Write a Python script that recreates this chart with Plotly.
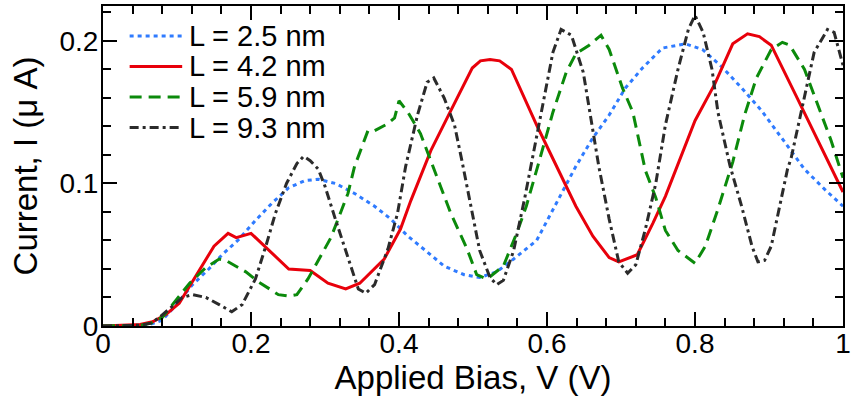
import plotly.graph_objects as go

# Current-voltage curves for four lengths L
labels = ["L = 2.5 nm", "L = 4.2 nm", "L = 5.9 nm", "L = 9.3 nm"]
colors = ["#2f7bff", "#e8000b", "#0b8a0b", "#2b2b2b"]
dashes = ["4px,4px", "solid", "12px,7px", "9px,4px,3px,4px"]

v_25 = [0, 0.06, 0.08, 0.099, 0.121, 0.143, 0.161, 0.184, 0.206, 0.228, 0.251, 0.273,
        0.291, 0.314, 0.34, 0.367, 0.389, 0.412, 0.438, 0.461, 0.488, 0.509, 0.532,
        0.555, 0.586, 0.613, 0.639, 0.662, 0.684, 0.706, 0.729, 0.756, 0.787, 0.810,
        0.836, 0.863, 0.89, 0.917, 0.948, 0.975, 1.0]
i_25 = [0, 0.0005, 0.004, 0.015, 0.029, 0.040, 0.050, 0.061, 0.074, 0.086, 0.097, 0.102,
        0.103, 0.100, 0.093, 0.084, 0.075, 0.063, 0.052, 0.042, 0.036, 0.034, 0.038,
        0.047, 0.060, 0.087, 0.112, 0.132, 0.148, 0.167, 0.181, 0.195, 0.198, 0.194,
        0.182, 0.167, 0.151, 0.132, 0.110, 0.096, 0.084]

v_42 = [0, 0.03, 0.05, 0.067, 0.085, 0.103, 0.126, 0.150, 0.169, 0.180, 0.20, 0.22,
        0.251, 0.28, 0.304, 0.328, 0.347, 0.38, 0.402, 0.416, 0.443, 0.469, 0.499,
        0.51, 0.523, 0.536, 0.552, 0.586, 0.613, 0.639, 0.662, 0.684, 0.697, 0.711,
        0.722, 0.743, 0.760, 0.80, 0.827, 0.851, 0.871, 0.887, 0.903, 0.938, 1.0]
i_42 = [0, 0.0005, 0.001, 0.003, 0.008, 0.016, 0.036, 0.056, 0.065, 0.062, 0.065, 0.055,
        0.040, 0.039, 0.030, 0.026, 0.030, 0.047, 0.068, 0.088, 0.123, 0.150, 0.181,
        0.186, 0.187, 0.186, 0.180, 0.141, 0.112, 0.084, 0.063, 0.048, 0.045, 0.048,
        0.050, 0.072, 0.091, 0.144, 0.170, 0.198, 0.205, 0.203, 0.197, 0.160, 0.094]

v_59 = [0, 0.05, 0.065, 0.08, 0.10, 0.117, 0.139, 0.157, 0.166, 0.193, 0.21, 0.237,
        0.251, 0.262, 0.277, 0.308, 0.331, 0.340, 0.358, 0.367, 0.385, 0.394, 0.40,
        0.412, 0.429, 0.443, 0.47, 0.492, 0.505, 0.519, 0.541, 0.559, 0.572, 0.588,
        0.608, 0.626, 0.639, 0.657, 0.673, 0.684, 0.702, 0.716, 0.733, 0.747, 0.760,
        0.777, 0.80, 0.814, 0.831, 0.851, 0.867, 0.883, 0.903, 0.918, 0.928, 0.948,
        0.965, 0.984, 1.0]
i_59 = [0, 0.0005, 0.002, 0.006, 0.019, 0.030, 0.041, 0.047, 0.046, 0.038, 0.031, 0.022,
        0.021, 0.022, 0.033, 0.062, 0.093, 0.112, 0.137, 0.137, 0.142, 0.146, 0.158,
        0.150, 0.135, 0.116, 0.079, 0.054, 0.036, 0.033, 0.042, 0.065, 0.084, 0.113,
        0.150, 0.178, 0.191, 0.197, 0.204, 0.194, 0.167, 0.150, 0.109, 0.090, 0.067,
        0.053, 0.044, 0.056, 0.082, 0.115, 0.148, 0.174, 0.194, 0.199, 0.197, 0.180,
        0.157, 0.130, 0.104]

v_93 = [0, 0.05, 0.065, 0.076, 0.092, 0.107, 0.121, 0.139, 0.157, 0.174, 0.188, 0.206,
        0.22, 0.233, 0.248, 0.262, 0.271, 0.28, 0.291, 0.30, 0.314, 0.331, 0.345, 0.355,
        0.367, 0.385, 0.398, 0.409, 0.425, 0.438, 0.447, 0.461, 0.475, 0.485, 0.496,
        0.509, 0.523, 0.532, 0.541, 0.555, 0.57, 0.595, 0.608, 0.619, 0.633, 0.649,
        0.66, 0.670, 0.684, 0.697, 0.709, 0.72, 0.733, 0.747, 0.76, 0.777, 0.791, 0.80,
        0.811, 0.823, 0.831, 0.847, 0.863, 0.877, 0.885, 0.894, 0.903, 0.914, 0.925,
        0.930, 0.948, 0.961, 0.979, 0.988, 1.0]
i_93 = [0, 0.0005, 0.002, 0.006, 0.013, 0.020, 0.022, 0.020, 0.015, 0.010, 0.015, 0.033,
        0.056, 0.079, 0.100, 0.114, 0.119, 0.116, 0.110, 0.098, 0.075, 0.049, 0.026, 0.023,
        0.029, 0.054, 0.079, 0.112, 0.148, 0.171, 0.174, 0.160, 0.141, 0.116, 0.088,
        0.053, 0.034, 0.029, 0.032, 0.053, 0.090, 0.157, 0.192, 0.208, 0.204, 0.178,
        0.144, 0.112, 0.075, 0.045, 0.037, 0.043, 0.068, 0.100, 0.141, 0.180, 0.208, 0.218,
        0.206, 0.180, 0.150, 0.113, 0.084, 0.056, 0.045, 0.046, 0.056, 0.084, 0.110,
        0.118, 0.162, 0.192, 0.208, 0.206, 0.183]

x_ticks = [0, 0.2, 0.4, 0.6, 0.8, 1]
x_ticktext = ["0", "0.2", "0.4", "0.6", "0.8", "1"]
y_ticks = [0, 0.1, 0.2]
y_ticktext = ["0", "0.1", "0.2"]
x_range = [0, 1]
y_range = [0, 0.2245]

FONT = "Liberation Sans, Arial, Helvetica, sans-serif"

series = [(v_25, i_25), (v_42, i_42), (v_59, i_59), (v_93, i_93)]

fig = go.Figure()
for (v, cur), name, col, dash in zip(series, labels, colors, dashes):
    fig.add_trace(go.Scatter(x=v, y=cur, mode="lines", name=name, showlegend=False,
                             line=dict(color=col, width=3, dash=dash)))

# hand-placed legend: short line sample plus label for each series
leg_x0, leg_x1, leg_tx = 0.036, 0.107, 0.114
leg_rows = [0.906, 0.811, 0.716, 0.620]
for name, col, dash, yy in zip(labels, colors, dashes, leg_rows):
    fig.add_shape(type="line", xref="paper", yref="paper", x0=leg_x0, x1=leg_x1,
                  y0=yy, y1=yy, line=dict(color=col, width=3, dash=dash))
    fig.add_annotation(xref="paper", yref="paper", x=leg_tx, y=yy, text=name,
                       showarrow=False, xanchor="left", yanchor="middle",
                       font=dict(family=FONT, size=29, color="black"))

minor_style = dict(ticks="inside", ticklen=8, tickwidth=1.5, tickcolor="black")
axis_style = dict(showline=True, linecolor="black", linewidth=2, mirror="allticks",
                  ticks="inside", tickcolor="black", tickwidth=2, ticklen=14,
                  showgrid=False, zeroline=False,
                  tickfont=dict(family=FONT, size=28, color="black"))

fig.update_layout(
    xaxis=dict(range=x_range, tickvals=x_ticks, ticktext=x_ticktext,
               minor=dict(dtick=0.04, tick0=0, **minor_style),
               ticklabeloverflow="allow", ticklabelstandoff=-9,
               title=dict(text="Applied Bias, V (V)", standoff=1,
                          font=dict(family=FONT, size=33, color="black")),
               **axis_style),
    yaxis=dict(range=y_range, tickvals=y_ticks, ticktext=y_ticktext,
               minor=dict(dtick=0.02, tick0=0, **minor_style),
               ticklabelstandoff=-3,
               title=dict(text="Current, I (μ A)", standoff=12,
                          font=dict(family=FONT, size=33, color="black")),
               **axis_style),
    width=855, height=405, margin=dict(l=103, r=6, t=4, b=79),
    plot_bgcolor="white", paper_bgcolor="white",
)

fig.write_html("out.html")
